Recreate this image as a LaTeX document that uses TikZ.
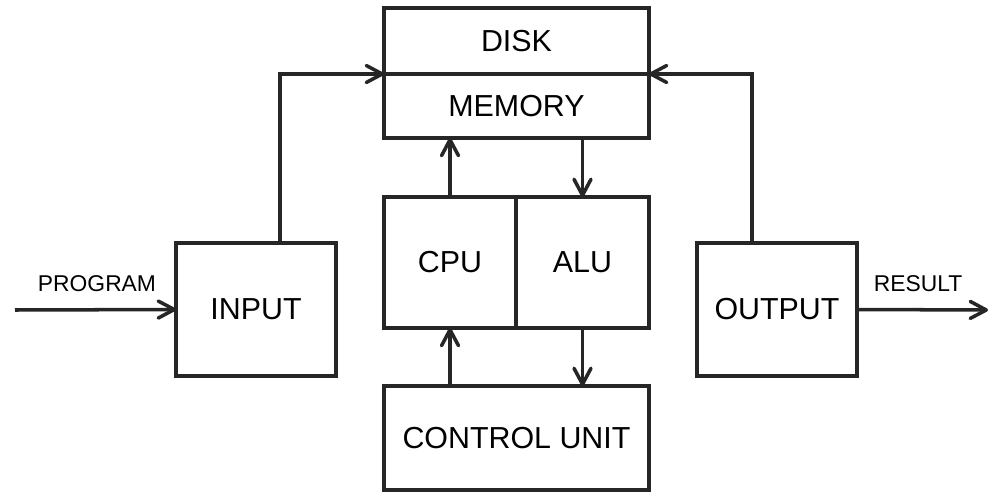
\documentclass[tikz,border=0pt]{standalone}
\usepackage{fontspec}
\setmainfont{Liberation Sans}
\usetikzlibrary{positioning, arrows.meta}

\begin{document}
\begin{tikzpicture}[
	x=0.02cm, y=-0.02cm,
	box/.style={draw=black!85, line width=2pt, rectangle, fill=white, outer sep=0pt, inner sep=0pt, align=center, font=\fontsize{17.3}{20}\selectfont},
	arrow/.style={-{Straight Barb[length=3.2mm, width=3.4mm, line cap=round, line join=round]}, draw=black!85, line width=2pt},
	lbl/.style={font=\fontsize{13}{15}\selectfont}
	]
	\useasboundingbox (0,0) rectangle (1000,500);

	% memory block
	\node[box, minimum width=5.3cm, minimum height=1.32cm] (disk) at (516.5,41) {DISK};
	\node[box, minimum width=5.3cm, minimum height=1.28cm] (memory) at (516.5,106) {MEMORY};

	% processor
	\node[box, minimum width=2.64cm, minimum height=2.62cm] (cpu) at (450,262.5) {CPU};
	\node[box, minimum width=2.66cm, minimum height=2.62cm] (alu) at (582.5,262.5) {ALU};
	\node[box, minimum width=5.3cm, minimum height=2.08cm] (control) at (516.5,438) {CONTROL UNIT};

	% input and output
	\node[box, minimum width=3.2cm, minimum height=2.66cm] (input) at (256,309.5) {INPUT};
	\node[box, minimum width=3.2cm, minimum height=2.66cm] (output) at (777,309.5) {OUTPUT};

	\coordinate (prog) at (15,310);
	\coordinate (res) at (988,310);
	\node[lbl] (proglbl) at (97,284) {PROGRAM};
	\node[lbl] (reslbl) at (918,284) {RESULT};

	\draw[arrow] (prog) -- (input.west);
	\draw[arrow] (output.east) -- (res);
	\draw[arrow] ([xshift=0.48cm]input.north) |- (disk.south west);
	\draw[arrow] ([xshift=-0.5cm]output.north) |- (disk.south east);

	\draw[arrow] (cpu.north) -- (cpu.north |- memory.south);
	\draw[arrow] (alu.north |- memory.south) -- (alu.north);
	\draw[arrow] (cpu.south |- control.north) -- (cpu.south);
	\draw[arrow] (alu.south) -- (alu.south |- control.north);

\end{tikzpicture}
\end{document}
